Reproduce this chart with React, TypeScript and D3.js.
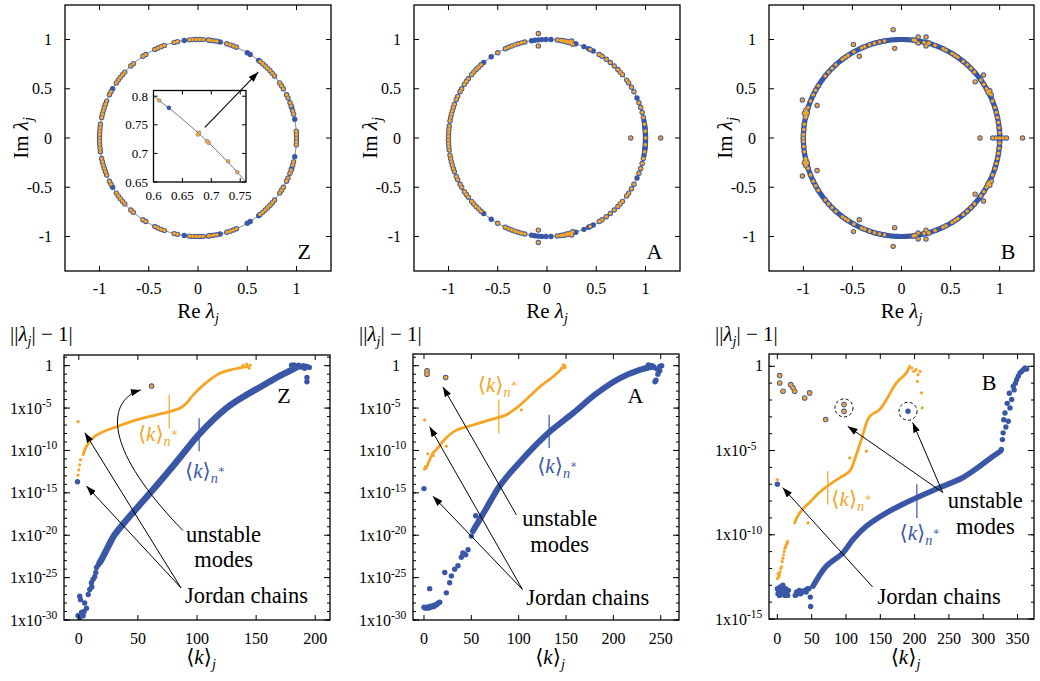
import React from "react";
import * as d3 from "d3";

type P = [number, number];
type Frame = { l: number; r: number; t: number; b: number };

const BLUE = "#3a57a7";
const ORANGE = "#f5a524";
const FONT = '"Liberation Serif","DejaVu Serif","DejaVu Sans",serif';

// ================= TOP ROW: eigenvalues in the complex plane =================
const circleTicks = [-1, -0.5, 0, 0.5, 1];
const circleTickLabels = ["-1", "-0.5", "0", "0.5", "1"];

// angles (deg) of eigenvalues on the unit circle, upper half (conjugates mirrored)
const zBothDeg = [0, 2, 4, 14, 16, 19, 21, 24, 26, 30, 32, 34, 39, 41, 43, 45, 47, 49, 51, 67, 69, 71, 73, 79, 81, 83, 84, 87, 89, 91, 93, 95, 102, 104, 110, 112, 114, 116, 122, 124, 131, 133, 138, 140, 142, 144, 146, 152, 154, 158, 160, 162, 164, 166, 168, 172, 174, 176, 178, 180];
const zBlueDeg = [11, 18, 52, 58, 60, 77, 98, 150];
const insetBoth: P[] = [[0.61, 0.7925], [0.6788, 0.7359], [0.677, 0.733], [0.6927, 0.7213], [0.6955, 0.7185], [0.7292, 0.6863], [0.7449, 0.667]];
const insetBlue: P[] = [[0.6266, 0.7797]];
const insetXTicks = [0.6, 0.65, 0.7, 0.75];
const insetYTicks = [0.65, 0.7, 0.75, 0.8];

const aBothDeg = [0, 4, 8, 12, 15, 18, 21, 28, 31, 34, 36, 40, 42, 44, 47, 50, 53, 56, 58, 64, 76, 77, 78, 79, 80, 81, 82, 84, 103, 105, 107, 109, 111, 113, 115, 120, 132, 134, 136, 138, 140, 143, 145, 147, 150, 152, 155, 157, 160, 162, 164, 166, 168, 170, 173, 175, 177, 179];
const aBlueDeg = [1, 2, 3, 5, 6, 7, 10, 24, 62, 65, 68, 73, 87.7, 90.6, 93, 95, 97, 99, 124.5, 130];
const aOffBoth: P[] = [[-0.088, 1.06], [-0.088, 0.935], [0.85, 0], [1.154, 0], [0.25, 0.985], [0.26, 0.952], [0.235, 0.968], [0.2, 0.975]];

const bBlueArcs: P[] = [[0, 62], [65, 180]];
const bOrangeDeg = [3, 6, 9, 12, 15, 18, 22, 27, 30, 33, 36, 42, 45, 48, 51, 55, 57, 59, 63, 65, 70, 74, 82, 100, 103, 106, 109, 112, 114, 119, 123, 125, 127, 132, 135, 138, 141, 148, 151, 154, 158, 162, 165, 168, 172, 175, 178, 180];
const bOffBoth: P[] = [[-0.085, 1.1], [-0.07, 0.91], [-0.49, 0.95], [-0.43, 0.83], [-1.01, 0.385], [-0.86, 0.33], [0.75, 0.57], [0.835, 0.64], [0.14, 0.99], [0.17, 1.025], [0.17, 0.965], [0.12, 0.995], [0.25, 1.025], [0.25, 0.935], [0.23, 0.97], [0.28, 0.965], [-0.99, 0.25], [-0.96, 0.25], [-0.975, 0.22], [-0.975, 0.28], [0.88, 0.47], [0.915, 0.44], [0.9, 0.48], [0.8, 0], [1.233, 0], [0.93, 0], [0.965, 0], [1.0, 0], [1.035, 0], [1.07, 0]];
const bOffBlue: P[] = [[1, 0.04], [1, 0.085]];

// ================= BOTTOM ROW: ||lambda|-1| (log10) vs <k>_j =================
const zXTicks = [0, 50, 100, 150, 200];
const aXTicks = [0, 50, 100, 150, 200, 250];
const bXTicks = [0, 50, 100, 150, 200, 250, 300, 350];
const zYTicks = [-30, -25, -20, -15, -10, -5, 0];
const bYTicks = [-15, -10, -5, 0];

const zBlueCurve: P[] = [[17.8, -23.2], [20.6, -22.5], [25, -21.3], [30, -20.0], [40.4, -18.2], [51.7, -16.4], [63, -14.6], [77, -12.3], [91, -9.9], [101, -8.2], [125, -5.0], [140, -3.6], [155, -2.4], [170, -1.2], [180, -0.5], [185, -0.15]];
const zBlueDots: P[] = [[-0.6, -29.5], [1, -29.7], [2.3, -29.1], [3.7, -29.5], [4.5, -29.0], [6.5, -28.6], [5, -28], [0.8, -27.2], [1.5, -27.6], [8, -27.0], [9.3, -26.4], [10.7, -25.6], [11, -26.1], [12.1, -25.2], [13.5, -24.9], [14.4, -24.4], [15, -23.8], [16.5, -23.5], [-1.1, -13.7], [180, 0.05], [182, 0.1], [184, -0.1], [186, 0.05], [188, -0.15], [190, 0.0], [191, -0.3], [193, -0.1], [195, -0.2], [193, -1.4], [193, -1.9]];
const zOrangeCurve: P[] = [[3.7, -10.5], [6.5, -9.5], [12.1, -8.5], [20.6, -7.8], [32, -7.2], [48.9, -6.4], [65.8, -5.8], [79.9, -5.3], [87, -4.9], [91.3, -4.4], [96.9, -3.45], [105.3, -2.3], [119.4, -0.9], [130.5, -0.42], [141.8, -0.1]];
const zOrangeDots: P[] = [[-0.6, -12.9], [0, -12.3], [0.7, -11.7], [1.5, -11.1], [-0.6, -6.6], [139, 0.05], [142, 0.2], [144, -0.3], [145, 0.05], [143, -0.15]];
const zUnstable: P[] = [[61.6, -2.4]];

const aBlueCurve: P[] = [[51.7, -19.5], [62.3, -17.5], [71.1, -15.8], [79.9, -14.2], [90.5, -12.7], [101, -11.4], [111.6, -10.1], [132.7, -7.8], [157.4, -5.6], [182, -3.3], [206.6, -1.5], [227.8, -0.5], [241.8, -0.1]];
const aBlueDots: P[] = [[0, -28.5], [1.5, -28.6], [3, -28.5], [4.5, -28.6], [6, -28.4], [7.5, -28.5], [9, -28.3], [10.5, -28.4], [12, -28.2], [13.5, -28.2], [15, -28.0], [16.6, -27.9], [6, -26.3], [21.9, -24.4], [23.6, -26.8], [27.1, -25.6], [28.9, -24.8], [32.4, -24.0], [35.9, -23.6], [39.4, -22.6], [41.1, -22.1], [44, -22.3], [46.5, -21.7], [50, -20.1], [54.6, -17.7], [0, -14.5], [237, 0.1], [240, 0.0], [243, -0.2], [246, -0.4], [249, -0.1], [251, 0.0], [249, -0.6], [245, -1.7], [244, -1.9], [247, -1.0]];
const aOrangeCurve: P[] = [[2.5, -12.07], [6, -11.1], [9.5, -10.3], [13, -9.9], [23.6, -8.5], [34.2, -7.6], [51.7, -7.0], [69.3, -6.4], [86.9, -5.8], [97.5, -5.0], [111.6, -3.6], [122.2, -2.5], [136.3, -1.3], [148.6, 0.0]];
const aOrangeDots: P[] = [[0.5, -12.2], [1.5, -11.9], [4, -10.4], [10, -10.6], [23.6, -9.5], [102.8, -5.2], [0.7, -6.4], [145, -0.3], [147, 0.1], [149, -0.2]];
const aUnstable: P[] = [[3.2, -0.6], [3.2, -1.0], [22.9, -1.4]];

const bBlueCurve: P[] = [[51.9, -13.05], [71.4, -11.86], [95.7, -11.07], [110.2, -10.28], [129.7, -9.49], [158.9, -8.7], [197.7, -7.9], [236.6, -7.2], [270.6, -6.6], [294.9, -5.93], [314.3, -5.34], [325, -5.04]];
const bBlueDots: P[] = [[0, -13.2], [1, -13.5], [2, -13.3], [3, -13.6], [4, -13.1], [5, -13.4], [6, -13.25], [7, -13.5], [8, -13.0], [9, -13.4], [10, -13.3], [11, -13.6], [12, -13.2], [13, -13.45], [14, -13.35], [15, -13.6], [16, -13.3], [26, -13.6], [28, -13.4], [30, -13.5], [32, -13.3], [34, -13.5], [36, -13.4], [38, -13.35], [40, -13.3], [42, -13.4], [44, -13.2], [46, -13.2], [48, -13.7], [48.5, -14.26], [0, -7.0], [190.4, -2.67], [326.5, -4.94], [328, -4.35], [329, -3.95], [330, -3.17], [331.7, -2.77], [336.5, -3.26], [339, -2.47], [341.4, -1.97], [343.8, -1.18], [348.7, -0.79], [351, -0.59], [353.6, -0.39], [358.4, -0.2], [363.3, -0.16], [361, -0.1], [356, -0.3], [333, -3.6], [335, -2.2], [338, -1.6], [345, -1.4], [347, -1.0]];
const bOrangeCurve: P[] = [[25.2, -9.29], [32.5, -8.7], [47.1, -8.07], [66.5, -7.31], [90.8, -6.62], [105.4, -6.23], [112.7, -5.53], [122.4, -4.35], [134.5, -2.97], [149.1, -2.57], [158.9, -1.98], [173.5, -0.99], [188, -0.39], [192.9, 0.0]];
const bOrangeDots: P[] = [[0, -12.6], [1, -12.3], [2, -12.5], [3, -12.4], [4, -12.2], [5, -12.0], [6, -11.9], [7, -11.6], [8, -11.4], [9, -11.2], [10, -11.0], [11, -10.8], [12, -10.7], [13, -10.6], [14, -10.5], [15, -10.4], [44.6, -9.3], [105.4, -5.43], [129.7, -5.04], [0, -6.72], [196, -0.1], [199, -0.3], [202, -0.2], [205, -0.5], [208, -0.3], [204, -0.9], [210, -1.58], [211, -2.47]];
const bUnstable: P[] = [[3.4, -0.55], [3.4, -0.99], [8.2, -1.48], [19.4, -1.09], [22.8, -1.28], [25.2, -1.48], [39.8, -1.88], [47, -1.58], [70.4, -3.16], [97.1, -2.27], [97.1, -2.67]];

// ---------------- helpers ----------------
const deg2pt = (a: number): P => [Math.cos((a * Math.PI) / 180), Math.sin((a * Math.PI) / 180)];
const mirrorDeg = (list: number[]) => list.flatMap((a) => (a === 0 || a === 180 ? [a] : [a, -a]));
const mirrorPts = (list: P[]): P[] => list.flatMap((p) => (p[1] === 0 ? [p] : [p, [p[0], -p[1]] as P]));

function KLabel({ x, y, color, sub, star = true, anchor = "start", size = 21 }: any) {
  return (
    <text x={x} y={y} fill={color} fontFamily={FONT} fontSize={size} textAnchor={anchor}>
      {"⟨"}
      <tspan fontStyle="italic">k</tspan>
      {"⟩"}
      <tspan fontSize={size * 0.68} dy={5} fontStyle="italic">{sub}</tspan>
      {star && <tspan fontSize={size * 0.52} dy={-10}>∗</tspan>}
    </text>
  );
}

function CirclePanel({ f, both, blue, arcs = [], label, inset = false, yTitleX }: any) {
  const x = d3.scaleLinear().domain([-1.35, 1.35]).range([f.l, f.r]);
  const y = d3.scaleLinear().domain([-1.35, 1.35]).range([f.b, f.t]);
  const tl = 5;
  const arcLine = d3.line<P>().x((d) => x(d[0])).y((d) => y(d[1]));
  const arcPaths = (arcs as P[])
    .flatMap(([a0, a1]) => [[a0, a1], [-a1, -a0]])
    .map(([a0, a1]) => arcLine(d3.range(a0, a1 + 0.01, 0.5).map(deg2pt)) as string);
  const cx = (f.l + f.r) / 2;
  // inset
  const fi: Frame = { l: 153.5, r: 246, t: 90.5, b: 182 };
  const xi = d3.scaleLinear().domain([0.6, 0.76]).range([fi.l, fi.r]);
  const yi = d3.scaleLinear().domain([0.65, 0.81]).range([fi.b, fi.t]);
  const insetArc = d3.line<P>().x((d) => xi(d[0])).y((d) => yi(d[1]))(d3.range(36, 58, 0.5).map(deg2pt)) as string;
  return (
    <g>
      <ellipse cx={x(0)} cy={y(0)} rx={x(1) - x(0)} ry={y(0) - y(1)} fill="none" stroke="#8a8a8a" strokeWidth={1} />
      {arcPaths.map((d, i) => (
        <path key={i} d={d} fill="none" stroke={BLUE} strokeWidth={5.2} strokeLinecap="round" />
      ))}
      {(blue as P[]).map((p, i) => <circle key={"b" + i} cx={x(p[0])} cy={y(p[1])} r={2.7} fill={BLUE} />)}
      {(both as P[]).map((p, i) => <circle key={"bb" + i} cx={x(p[0])} cy={y(p[1])} r={2.7} fill={BLUE} />)}
      {(both as P[]).map((p, i) => <circle key={"o" + i} cx={x(p[0])} cy={y(p[1])} r={1.8} fill={ORANGE} />)}
      <rect x={f.l} y={f.t} width={f.r - f.l} height={f.b - f.t} fill="none" stroke="#000" strokeWidth={1.3} />
      {circleTicks.map((v, i) => (
        <g key={i} stroke="#000" strokeWidth={1}>
          <line x1={x(v)} x2={x(v)} y1={f.b} y2={f.b - tl} />
          <line x1={x(v)} x2={x(v)} y1={f.t} y2={f.t + tl} />
          <line x1={f.l} x2={f.l + tl} y1={y(v)} y2={y(v)} />
          <line x1={f.r} x2={f.r - tl} y1={y(v)} y2={y(v)} />
        </g>
      ))}
      {circleTicks.map((v, i) => (
        <text key={"xl" + i} x={x(v)} y={294} textAnchor="middle" fontFamily={FONT} fontSize={16}>{circleTickLabels[i]}</text>
      ))}
      {circleTicks.map((v, i) => (
        <text key={"yl" + i} x={f.l - 13} y={y(v) + 5.5} textAnchor="end" fontFamily={FONT} fontSize={16}>{circleTickLabels[i]}</text>
      ))}
      <text x={cx} y={318} textAnchor="middle" fontFamily={FONT} fontSize={21}>
        Re <tspan fontStyle="italic">λ</tspan>
        <tspan fontStyle="italic" fontSize={14} dy={5}>j</tspan>
      </text>
      <text transform={`translate(${f.l - 37},${(f.t + f.b) / 2}) rotate(-90)`} textAnchor="middle" fontFamily={FONT} fontSize={21}>
        Im <tspan fontStyle="italic">λ</tspan>
        <tspan fontStyle="italic" fontSize={14} dy={5}>j</tspan>
      </text>
      <text x={x(1.01)} y={y(-1.226)} fontFamily={FONT} fontSize={22}>{label}</text>
      {inset && (
        <g>
          <defs>
            <clipPath id="insetClip">
              <rect x={fi.l} y={fi.t} width={fi.r - fi.l} height={fi.b - fi.t} />
            </clipPath>
          </defs>
          <rect x={fi.l} y={fi.t} width={fi.r - fi.l} height={fi.b - fi.t} fill="#fff" />
          <g clipPath="url(#insetClip)">
            <path d={insetArc} fill="none" stroke="#777" strokeWidth={1} />
            {insetBlue.map((p, i) => <circle key={"ib" + i} cx={xi(p[0])} cy={yi(p[1])} r={2.3} fill={BLUE} />)}
            {insetBoth.map((p, i) => <circle key={"ibb" + i} cx={xi(p[0])} cy={yi(p[1])} r={2.3} fill={BLUE} opacity={0.6} />)}
            {insetBoth.map((p, i) => <circle key={"io" + i} cx={xi(p[0])} cy={yi(p[1])} r={1.6} fill={ORANGE} />)}
          </g>
          <rect x={fi.l} y={fi.t} width={fi.r - fi.l} height={fi.b - fi.t} fill="none" stroke="#000" strokeWidth={1.3} />
          {insetXTicks.map((v, i) => (
            <g key={"ixt" + i}>
              <line x1={xi(v)} x2={xi(v)} y1={fi.b} y2={fi.b - 4} stroke="#000" />
              <line x1={xi(v)} x2={xi(v)} y1={fi.t} y2={fi.t + 4} stroke="#000" />
              <text x={xi(v)} y={fi.b + 17.5} textAnchor="middle" fontFamily={FONT} fontSize={13}>{String(v)}</text>
            </g>
          ))}
          {insetYTicks.map((v, i) => (
            <g key={"iyt" + i}>
              <line x1={fi.l} x2={fi.l + 4} y1={yi(v)} y2={yi(v)} stroke="#000" />
              <line x1={fi.r} x2={fi.r - 4} y1={yi(v)} y2={yi(v)} stroke="#000" />
              <text x={fi.l - 5.5} y={yi(v) + 4.5} textAnchor="end" fontFamily={FONT} fontSize={13}>{String(v)}</text>
            </g>
          ))}
          <line x1={x(0.07)} y1={y(0.107)} x2={x(0.611)} y2={y(0.668)} stroke="#000" strokeWidth={1.1} markerEnd="url(#ah)" />
        </g>
      )}
    </g>
  );
}

function DecayPanel(props: any) {
  const { f, xDom, yDom, xTicks, yTicks, blueCurve, blueDots, orangeCurve, orangeDots, unstable, markers, notes, arrows, curved, rings, label, oneGap, id, blueWidth } = props;
  const x = d3.scaleLinear().domain(xDom).range([f.l, f.r]);
  const y = d3.scaleLinear().domain(yDom).range([f.b, f.t]);
  const line = d3.line<P>().x((d) => x(d[0])).y((d) => y(d[1])).curve(d3.curveCatmullRom.alpha(0.5));
  const minor = d3.range(Math.ceil(yDom[0]), yDom[1], 1);
  const X = (d: P) => x(d[0]);
  const Y = (d: P) => y(d[1]);
  return (
    <g>
      <defs>
        <clipPath id={id}>
          <rect x={f.l} y={f.t} width={f.r - f.l} height={f.b - f.t} />
        </clipPath>
      </defs>
      <g clipPath={`url(#${id})`}>
        <path d={line(orangeCurve) as string} fill="none" stroke={ORANGE} strokeWidth={2.8} strokeLinecap="round" />
        {(orangeDots as P[]).map((p, i) => <circle key={"od" + i} cx={X(p)} cy={Y(p)} r={1.6} fill={ORANGE} />)}
        <path d={line(blueCurve) as string} fill="none" stroke={BLUE} strokeWidth={blueWidth} strokeLinecap="round" />
        {(blueDots as P[]).map((p, i) => <circle key={"bd" + i} cx={X(p)} cy={Y(p)} r={2.7} fill={BLUE} />)}
        {(unstable as P[]).map((p, i) => <circle key={"ub" + i} cx={X(p)} cy={Y(p)} r={2.8} fill={BLUE} />)}
        {(unstable as P[]).map((p, i) => <circle key={"uo" + i} cx={X(p)} cy={Y(p)} r={1.9} fill={ORANGE} />)}
      </g>
      {(markers as any[]).map((m, i) => (
        <line key={"m" + i} x1={x(m.k)} x2={x(m.k)} y1={y(m.v0)} y2={y(m.v1)} stroke={m.color} strokeWidth={1.2} />
      ))}
      {(rings || []).map((p: P, i: number) => (
        <circle key={"r" + i} cx={X(p)} cy={Y(p)} r={9} fill="none" stroke="#000" strokeWidth={1} strokeDasharray="3,2.5" />
      ))}
      <rect x={f.l} y={f.t} width={f.r - f.l} height={f.b - f.t} fill="none" stroke="#000" strokeWidth={1.3} />
      {(xTicks as number[]).map((v, i) => (
        <g key={"xt" + i}>
          <line x1={x(v)} x2={x(v)} y1={f.b} y2={f.b - 5} stroke="#000" />
          <line x1={x(v)} x2={x(v)} y1={f.t} y2={f.t + 5} stroke="#000" />
          <text x={x(v)} y={644} textAnchor="middle" fontFamily={FONT} fontSize={16}>{String(v)}</text>
        </g>
      ))}
      {minor.map((v, i) => (
        <g key={"mt" + i} stroke="#000">
          <line x1={f.l} x2={f.l + 3} y1={y(v)} y2={y(v)} />
          <line x1={f.r} x2={f.r - 3} y1={y(v)} y2={y(v)} />
        </g>
      ))}
      {(yTicks as number[]).map((v, i) => (
        <g key={"yt" + i}>
          <line x1={f.l} x2={f.l + 6} y1={y(v)} y2={y(v)} stroke="#000" />
          <line x1={f.r} x2={f.r - 6} y1={y(v)} y2={y(v)} stroke="#000" />
          {v === 0 ? (
            <text x={f.l - oneGap} y={y(v) + 5} textAnchor="end" fontFamily={FONT} fontSize={16}>1</text>
          ) : (
            <g>
              <text x={f.l - 22} y={y(v) + 5.5} textAnchor="end" fontFamily={FONT} fontSize={16}>1x10</text>
              <text x={f.l - 22} y={y(v) - 1} textAnchor="start" fontFamily={FONT} fontSize={11.5}>{String(v)}</text>
            </g>
          )}
        </g>
      ))}
      <text x={f.l - 54} y={341} fontFamily={FONT} fontSize={21}>
        ||<tspan fontStyle="italic">λ</tspan>
        <tspan fontStyle="italic" fontSize={14} dy={5}>j</tspan>
        <tspan dy={-5}>| − 1|</tspan>
      </text>
      <KLabel x={(f.l + f.r) / 2 + 4} y={664} color="#000" sub="j" star={false} anchor="middle" />
      <text x={x(label.k)} y={y(label.v)} fontFamily={FONT} fontSize={22}>{label.text}</text>
      {(notes as any[]).map((n, i) =>
        n.kl ? (
          <KLabel key={"n" + i} x={x(n.k)} y={y(n.v)} color={n.color} sub="n" />
        ) : (
          <text key={"n" + i} x={x(n.k)} y={y(n.v)} textAnchor={n.anchor || "start"} fontFamily={FONT} fontSize={22.5}>{n.text}</text>
        )
      )}
      {(arrows as any[]).map((a, i) => (
        <line key={"a" + i} x1={x(a.from[0])} y1={y(a.from[1])} x2={x(a.to[0])} y2={y(a.to[1])} stroke="#000" strokeWidth={1} markerEnd="url(#ah)" />
      ))}
      {curved && (
        <path
          d={`M${X(curved[0])},${Y(curved[0])} C${X(curved[1])},${Y(curved[1])} ${X(curved[2])},${Y(curved[2])} ${X(curved[3])},${Y(curved[3])}`}
          fill="none" stroke="#000" strokeWidth={1} markerEnd="url(#ah)"
        />
      )}
    </g>
  );
}

export default function App() {
  const zTop: Frame = { l: 65, r: 331, t: 5, b: 271 };
  const aTop: Frame = { l: 414, r: 680, t: 5, b: 271 };
  const bTop: Frame = { l: 769, r: 1034, t: 5, b: 271 };
  const zBot: Frame = { l: 64, r: 330, t: 355, b: 620 };
  const aBot: Frame = { l: 413, r: 679, t: 354, b: 620 };
  const bBot: Frame = { l: 769, r: 1034, t: 354, b: 619 };

  const zBoth = mirrorDeg(zBothDeg).map(deg2pt);
  const zBlue = mirrorDeg(zBlueDeg).map(deg2pt);
  const aBoth = [...mirrorDeg(aBothDeg).map(deg2pt), ...mirrorPts(aOffBoth)];
  const aBlue = mirrorDeg(aBlueDeg).map(deg2pt);
  const bBoth = [...mirrorDeg(bOrangeDeg).map(deg2pt), ...mirrorPts(bOffBoth)];
  const bBlue = mirrorPts(bOffBlue);

  return (
    <svg width={1040} height={681} style={{ position: "absolute", left: 0, top: 0, background: "#fff" }}>
      <defs>
        <marker id="ah" viewBox="0 0 10 7" refX={10} refY={3.5} markerWidth={10} markerHeight={7} markerUnits="userSpaceOnUse" orient="auto">
          <path d="M0,0 L10,3.5 L0,7 z" fill="#000" />
        </marker>
      </defs>
      <rect x={0} y={0} width={1040} height={681} fill="#fff" />
      <CirclePanel f={zTop} both={zBoth} blue={zBlue} label="Z" inset />
      <CirclePanel f={aTop} both={aBoth} blue={aBlue} label="A" />
      <CirclePanel f={bTop} both={bBoth} blue={bBlue} arcs={bBlueArcs} label="B" />

      <DecayPanel
        id="cz" f={zBot} xDom={[-12.5, 212.5]} yDom={[-30, 1.26]} xTicks={zXTicks} yTicks={zYTicks} oneGap={11} blueWidth={6.5}
        blueCurve={zBlueCurve} blueDots={zBlueDots} orangeCurve={zOrangeCurve} orangeDots={zOrangeDots} unstable={zUnstable}
        markers={[{ k: 76.5, v0: -3.4, v1: -7.4, color: ORANGE }, { k: 101.8, v0: -6.2, v1: -10.1, color: BLUE }]}
        label={{ k: 167.8, v: -4.4, text: "Z" }}
        notes={[
          { k: 122.5, v: -20.8, text: "unstable", anchor: "middle" },
          { k: 122.5, v: -23.8, text: "modes", anchor: "middle" },
          { k: 89.8, v: -28.05, text: "Jordan chains" },
          { k: 50, v: -8.9, kl: true, color: ORANGE },
          { k: 89.8, v: -13.2, kl: true, color: BLUE },
        ]}
        arrows={[{ from: [86.4, -26.2], to: [5.1, -7.9] }, { from: [86.4, -26.2], to: [6.5, -14.2] }]}
        curved={[[88.1, -19.45], [13.6, -8.74], [28, -3.8], [52.5, -2.86]]}
      />
      <DecayPanel
        id="ca" f={aBot} xDom={[-11.6, 269.3]} yDom={[-30, 1.38]} xTicks={aXTicks} yTicks={zYTicks} oneGap={13} blueWidth={6}
        blueCurve={aBlueCurve} blueDots={aBlueDots} orangeCurve={aOrangeCurve} orangeDots={aOrangeDots} unstable={aUnstable}
        markers={[{ k: 79, v0: -4.0, v1: -8.0, color: ORANGE }, { k: 132.2, v0: -5.8, v1: -9.7, color: BLUE }]}
        label={{ k: 215, v: -4.4, text: "A" }}
        notes={[
          { k: 143.3, v: -18.9, text: "unstable", anchor: "middle" },
          { k: 143.3, v: -22, text: "modes", anchor: "middle" },
          { k: 108, v: -28.2, text: "Jordan chains" },
          { k: 56.7, v: -3.06, kl: true, color: ORANGE },
          { k: 119.5, v: -12.7, kl: true, color: BLUE },
        ]}
        arrows={[
          { from: [97.6, -17.6], to: [20, -2.5] },
          { from: [104, -26.4], to: [6, -7.2] },
          { from: [104, -26.4], to: [9.5, -15.4] },
        ]}
      />
      <DecayPanel
        id="cb" f={bBot} xDom={[-12.2, 374]} yDom={[-15, 0.73]} xTicks={bXTicks} yTicks={bYTicks} oneGap={6} blueWidth={5.5}
        blueCurve={bBlueCurve} blueDots={bBlueDots} orangeCurve={bOrangeCurve} orangeDots={bOrangeDots} unstable={bUnstable}
        markers={[{ k: 73.5, v0: -6.23, v1: -8.2, color: ORANGE }, { k: 203.3, v0: -7.0, v1: -9.0, color: BLUE }]}
        rings={[[97.1, -2.47], [190.4, -2.67]]}
        label={{ k: 298, v: -1.38, text: "B" }}
        notes={[
          { k: 303, v: -8.4, text: "unstable", anchor: "middle" },
          { k: 303, v: -9.98, text: "modes", anchor: "middle" },
          { k: 146, v: -14.13, text: "Jordan chains" },
          { k: 78.7, v: -8.3, kl: true, color: ORANGE },
          { k: 178, v: -10.3, kl: true, color: BLUE },
        ]}
        arrows={[
          { from: [241, -7.49], to: [102.5, -3.56] },
          { from: [241, -7.49], to: [197.2, -3.34] },
          { from: [138.8, -13.1], to: [7.7, -7.2] },
        ]}
      />
    </svg>
  );
}
